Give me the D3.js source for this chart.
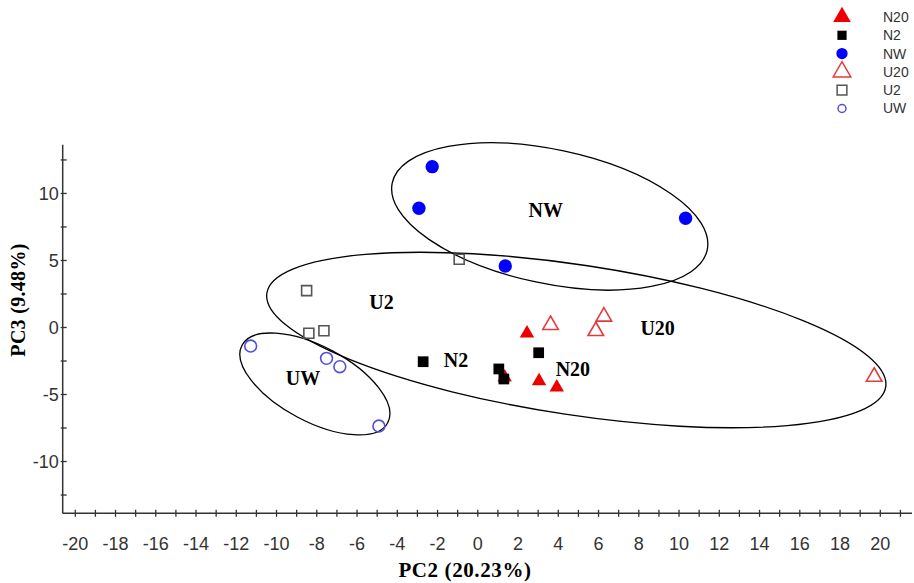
<!DOCTYPE html>
<html lang="en">
<head>
<meta charset="UTF-8">
<title>PCA - PC2 vs PC3</title>
<script src="https://cdn.jsdelivr.net/npm/d3@7"></script>
<style>
    body{ margin:0; background:#fff; }
    .tick text{ font-family:"Liberation Sans Narrow","Arial Narrow","Liberation Sans",Arial,sans-serif; font-size:18px; fill:#333; }
    .axisTitle, .clusterLabel{ font-family:"Liberation Serif","Times New Roman",serif; font-weight:bold; fill:#000; }
    .legend text{ font-family:"Liberation Sans Narrow","Arial Narrow","Liberation Sans",Arial,sans-serif; font-size:14px; fill:#333; }
</style>
</head>
<body>
<div id="chart"></div>
<script>
    ////////////////////////////////////////////////////////////////
    /*                         Data                               */
    ////////////////////////////////////////////////////////////////
    const groups = ["N20","N2","NW","U20","U2","UW"];

    // PC2 / PC3 scores
    const n20X = [2.47, 3.07, 3.95, 1.36];
    const n20Y = [-0.47, -4.03, -4.5, -3.75];
    const n2X  = [-2.69, 1.07, 1.32, 3.05];
    const n2Y  = [-2.59, -3.13, -3.88, -1.92];
    const nwX  = [-2.24, -2.9, 10.35, 1.39];
    const nwY  = [11.96, 8.86, 8.11, 4.55];
    const u20X = [3.64, 5.89, 6.29, 19.72];
    const u20Y = [0.15, -0.3, 0.77, -3.71];
    const u2X  = [-0.9, -8.48, -8.37, -7.62];
    const u2Y  = [5.05, 2.71, -0.47, -0.28];
    const uwX  = [-11.26, -7.49, -6.83, -4.89];
    const uwY  = [-1.42, -2.34, -2.96, -7.39];

    // cluster outlines: centre (PC2, PC3), semi axes in PC2 units, tilt in degrees
    const clusterNames = ["NW", "U2", "UW"];
    const clusterCX    = [3.6, 4.92, -8.07];
    const clusterCY    = [8.25, -0.97, -4.25];
    const clusterA     = [8.0, 15.55, 4.1];
    const clusterB     = [3.33, 3.73, 1.86];
    const clusterTilt  = [12, 8.6, 28];

    // group labels inside the plot
    const labelText = ["NW", "U2", "N2", "U20", "N20", "UW"];
    const labelX    = [3.4, -4.76, -1.06, 8.96, 4.75, -8.66];
    const labelY    = [8.73, 1.89, -2.46, -0.1, -3.16, -3.83];

    const xTicks = d3.range(-20, 22, 1);
    const yTicks = d3.range(-12.5, 13.6, 2.5);

    ////////////////////////////////////////////////////////////////
    /*                 Constants and containers                   */
    ////////////////////////////////////////////////////////////////
    const width = 914, height = 583;

    const svg = d3.select("#chart").append("svg")
        .attr("width", width)
        .attr("height", height);

    const x = d3.scaleLinear().domain([-20.6, 21.6]).range([62.7, 912]);
    const y = d3.scaleLinear().domain([-13.9, 13.6]).range([513.3, 144.7]);
    const unit = x(1) - x(0);

    // marker style per group
    const styles = {
        N20: {shape: d3.symbolTriangle, size: 90,  fill: "#ee0000", stroke: "none"},
        N2:  {shape: d3.symbolSquare,   size: 115, fill: "#000",    stroke: "none"},
        NW:  {shape: d3.symbolCircle,   size: 140, fill: "#0000ff", stroke: "none"},
        U20: {shape: d3.symbolTriangle, size: 105, fill: "none",    stroke: "#e23b3b"},
        U2:  {shape: d3.symbolSquare,   size: 100, fill: "none",    stroke: "#555"},
        UW:  {shape: d3.symbolCircle,   size: 110, fill: "none",    stroke: "#5050dd"}
    };
    const legendStyles = {
        N20: {size: 135}, N2: {size: 85}, NW: {size: 100},
        U20: {size: 135}, U2: {size: 95}, UW: {size: 50}
    };

    ////////////////////////////////////////////////////////////////
    /*                          Axes                              */
    ////////////////////////////////////////////////////////////////
    const xAxis = svg.append("g")
        .attr("transform", `translate(0,${y(-13.9)})`)
        .call(d3.axisBottom(x).tickValues(xTicks).tickSize(0)
            .tickFormat(d => d % 2 === 0 ? d : ""));
    xAxis.select(".domain").remove();
    xAxis.append("line").attr("x1", x(-20.6)).attr("x2", x(21.6))
        .attr("stroke", "#333").attr("stroke-width", 1.5);
    xAxis.selectAll(".tick line").attr("y1", -3.5).attr("y2", 3.5)
        .attr("stroke", "#333").attr("stroke-width", 1.3);
    xAxis.selectAll(".tick text").attr("y", 30).attr("dy", "0.35em");

    const yAxis = svg.append("g")
        .attr("transform", `translate(${x(-20.6)},0)`)
        .call(d3.axisLeft(y).tickValues(yTicks).tickSize(0)
            .tickFormat(d => d % 5 === 0 ? d : ""));
    yAxis.select(".domain").remove();
    yAxis.append("line").attr("y1", y(13.6)).attr("y2", y(-13.9))
        .attr("stroke", "#333").attr("stroke-width", 1.5);
    yAxis.selectAll(".tick line").attr("x1", -2).attr("x2", 4)
        .attr("stroke", "#333").attr("stroke-width", 1.3);
    yAxis.selectAll(".tick text").attr("x", -4).attr("dy", "0.35em");

    svg.append("text").attr("class", "axisTitle")
        .attr("x", 465).attr("y", 570)
        .attr("text-anchor", "middle").attr("dominant-baseline", "central")
        .attr("font-size", "21px").attr("letter-spacing", "0.6px")
        .text("PC2 (20.23%)");

    svg.append("text").attr("class", "axisTitle")
        .attr("transform", "translate(18,300) rotate(-90)")
        .attr("text-anchor", "middle").attr("dominant-baseline", "central")
        .attr("font-size", "20px").attr("letter-spacing", "0.3px")
        .text("PC3 (9.48%)");

    ////////////////////////////////////////////////////////////////
    /*                    Cluster ellipses                        */
    ////////////////////////////////////////////////////////////////
    svg.append("g").selectAll("ellipse")
        .data(clusterNames)
        .join("ellipse")
        .attr("transform", (d, i) => `translate(${x(clusterCX[i])},${y(clusterCY[i])}) rotate(${clusterTilt[i]})`)
        .attr("rx", (d, i) => clusterA[i] * unit)
        .attr("ry", (d, i) => clusterB[i] * unit)
        .attr("fill", "none")
        .attr("stroke", "#000")
        .attr("stroke-width", 1.3);

    ////////////////////////////////////////////////////////////////
    /*                        Points                              */
    ////////////////////////////////////////////////////////////////
    const series = [
        {g: "U2",  xs: u2X,  ys: u2Y},
        {g: "UW",  xs: uwX,  ys: uwY},
        {g: "U20", xs: u20X, ys: u20Y},
        {g: "NW",  xs: nwX,  ys: nwY},
        {g: "N20", xs: n20X, ys: n20Y},
        {g: "N2",  xs: n2X,  ys: n2Y}
    ];
    const points = series.flatMap(s => s.xs.map((v, i) => ({g: s.g, px: v, py: s.ys[i]})));

    svg.append("g").selectAll("path")
        .data(points)
        .join("path")
        .attr("transform", d => `translate(${x(d.px)},${y(d.py)})`)
        .attr("d", d => d3.symbol(styles[d.g].shape, styles[d.g].size)())
        .attr("fill", d => styles[d.g].fill)
        .attr("stroke", d => styles[d.g].stroke)
        .attr("stroke-width", 1.6);

    svg.append("g").selectAll("text")
        .data(labelText)
        .join("text")
        .attr("class", "clusterLabel")
        .attr("x", (d, i) => x(labelX[i]))
        .attr("y", (d, i) => y(labelY[i]))
        .attr("text-anchor", "middle")
        .attr("dominant-baseline", "central")
        .attr("font-size", "20px")
        .text(d => d);

    ////////////////////////////////////////////////////////////////
    /*                         Legend                             */
    ////////////////////////////////////////////////////////////////
    const legend = svg.append("g").attr("class", "legend")
        .attr("transform", "translate(842,17)");
    const rows = legend.selectAll("g")
        .data(groups)
        .join("g")
        .attr("transform", (d, i) => `translate(0,${i * 18.3})`);
    rows.append("path")
        .attr("d", d => d3.symbol(styles[d].shape, legendStyles[d].size)())
        .attr("fill", d => styles[d].fill)
        .attr("stroke", d => styles[d].stroke)
        .attr("stroke-width", 1.5);
    rows.append("text")
        .attr("x", 41)
        .attr("dy", "0.35em")
        .text(d => d);
</script>
</body>
</html>
